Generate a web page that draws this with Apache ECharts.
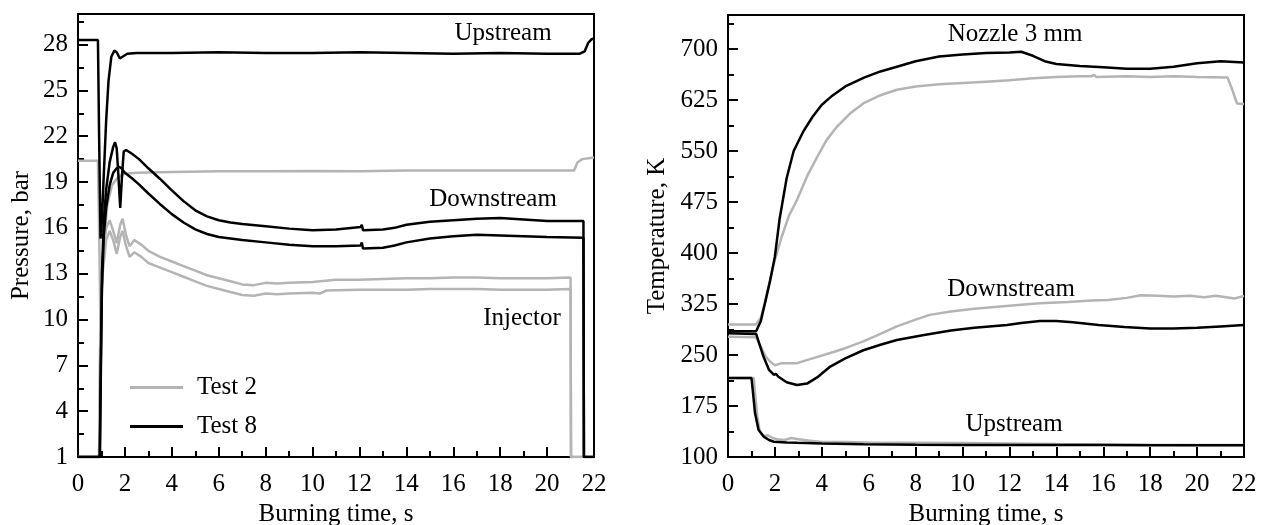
<!DOCTYPE html>
<html>
<head>
<meta charset="utf-8">
<script src="https://cdn.jsdelivr.net/npm/echarts/dist/echarts.min.js"></script>
<style>
  html, body { margin: 0; padding: 0; background: #fff; }
  #chart { width: 1264px; height: 525px; }
</style>
</head>
<body>
<div id="chart"></div>
<script>
// Burning-time histories, [time s, value] pairs

// Pressure, bar — Test 2
const p2Upstream = [[0,20.4],[0.85,20.4],[0.92,14],[0.96,9],[1.0,12],[1.1,15],[1.25,17.5],[1.45,18.8],[1.7,19.3],[2.0,19.55],[2.5,19.6],[4,19.65],[6,19.7],[8,19.7],[10,19.72],[12,19.7],[14,19.75],[16,19.75],[18,19.75],[20,19.75],[21.15,19.75],[21.3,20.3],[21.5,20.5],[22,20.6]];
const p2Downstream = [[0,1],[0.9,1],[0.95,9],[1.05,14],[1.2,16],[1.35,16.5],[1.5,15.8],[1.65,15.0],[1.8,16.2],[1.9,16.6],[2.05,15.5],[2.2,14.8],[2.4,15.2],[2.7,14.9],[3,14.5],[3.5,14.1],[4,13.8],[4.5,13.5],[5,13.2],[5.5,12.9],[6,12.7],[6.5,12.5],[7,12.3],[7.5,12.25],[8,12.4],[8.5,12.35],[9,12.4],[10,12.45],[11,12.6],[12,12.6],[13,12.65],[14,12.7],[15,12.7],[16,12.75],[17,12.75],[18,12.7],[19,12.7],[20,12.7],[21,12.75],[21.02,1],[21.6,1]];
const p2Injector = [[0,1],[0.9,1],[0.95,8.8],[1.05,13],[1.2,15.2],[1.35,15.8],[1.5,15.2],[1.65,14.3],[1.8,15.4],[1.9,15.8],[2.05,14.8],[2.2,14.1],[2.4,14.4],[2.7,14.1],[3,13.7],[3.5,13.4],[4,13.1],[4.5,12.8],[5,12.5],[5.5,12.2],[6,12.0],[6.5,11.8],[7,11.6],[7.5,11.55],[8,11.7],[8.5,11.65],[9,11.7],[10,11.75],[10.3,11.7],[10.6,11.9],[12,11.95],[13,11.95],[14,11.95],[15,12.0],[16,12.0],[17,12.0],[18,11.95],[19,11.95],[20,11.95],[21,12.0],[21.02,1],[21.6,1]];

// Pressure, bar — Test 8
const p8Upstream = [[0,28.3],[0.85,28.3],[0.9,22],[0.96,15.3],[1.02,16.5],[1.1,19.5],[1.2,23],[1.3,25.6],[1.42,27.2],[1.55,27.6],[1.65,27.5],[1.78,27.1],[1.9,27.2],[2.1,27.4],[2.5,27.45],[4,27.45],[6,27.5],[8,27.45],[10,27.45],[12,27.5],[14,27.45],[16,27.4],[18,27.45],[20,27.4],[21.4,27.4],[21.6,27.55],[21.75,28.1],[21.9,28.35],[22,28.4]];
const p8Downstream = [[0,1],[0.93,1],[0.97,7],[1.02,13],[1.1,16.5],[1.2,18.5],[1.35,20.3],[1.5,21.3],[1.58,21.6],[1.65,21.2],[1.72,19.5],[1.8,17.3],[1.88,19.5],[1.95,21],[2.05,21.1],[2.3,20.85],[2.6,20.5],[3,19.9],[3.5,19.2],[4,18.45],[4.5,17.75],[5,17.15],[5.5,16.75],[6,16.5],[6.5,16.35],[7,16.25],[8,16.1],[9,15.95],[10,15.85],[11,15.9],[12.05,16.05],[12.1,16.2],[12.15,15.85],[13,15.9],[13.5,16.0],[14,16.2],[15,16.4],[16,16.5],[17,16.6],[18,16.65],[19,16.55],[20,16.45],[21.55,16.45],[21.57,1],[22,1]];
const p8Injector = [[0,1],[0.93,1],[0.97,6],[1.02,12],[1.1,15.5],[1.2,17.3],[1.35,18.8],[1.5,19.6],[1.65,19.9],[1.75,20],[1.85,19.9],[2,19.6],[2.3,19.25],[2.6,18.85],[3,18.25],[3.5,17.55],[4,16.9],[4.5,16.35],[5,15.9],[5.5,15.6],[6,15.4],[7,15.2],[8,15.05],[9,14.9],[10,14.8],[11,14.8],[12.05,14.85],[12.1,15.05],[12.15,14.65],[13,14.7],[13.5,14.85],[14,15.05],[15,15.3],[16,15.45],[17,15.55],[18,15.5],[19,15.45],[20,15.4],[21.55,15.35],[21.57,1],[22,1]];

// Temperature, K — Test 2
const t2Nozzle = [[0,295],[1.2,295],[1.4,305],[1.6,330],[1.8,362],[2.0,390],[2.3,425],[2.6,455],[2.94,478],[3.4,515],[3.8,541],[4.2,566],[4.65,586],[5.2,605],[5.77,620],[6.5,632],[7.2,640],[8,645],[9,648],[10,650],[11,652],[12,654],[13,657],[14,659],[15,660],[15.5,660],[15.6,662],[15.7,659],[17,660],[18,659],[19,660],[20,659],[21.3,658],[21.5,640],[21.7,620],[22,619]];
const t2Downstream = [[0,277],[1.2,276],[1.4,262],[1.6,248],[1.8,240],[2.0,235],[2.3,238],[2.94,238],[3.5,244],[4.36,253],[5.0,260],[5.77,270],[6.5,281],[7.2,292],[8,302],[8.6,309],[9.5,314],[10.5,318],[11.5,321],[12.5,324],[13.3,326],[14.5,328],[15.5,330],[16.2,331],[17,334],[17.6,338],[18.3,337],[19,336],[19.7,337],[20.3,335],[20.8,337],[21.6,333],[22,337]];
const t2Upstream = [[0,216],[1.1,216],[1.15,195],[1.25,160],[1.35,138],[1.5,131],[1.7,132],[1.9,128],[2.1,126],[2.4,125],[2.7,128],[3.0,126],[3.5,124],[4,122],[5,122],[6,121.5],[8,121],[10,120.5],[12,119.8],[14,119],[16,118.5],[18,118],[20,117.8],[22,117.5]];

// Temperature, K — Test 8
const t8Nozzle = [[0,285],[1.2,285],[1.4,300],[1.6,330],[1.8,360],[2.0,395],[2.2,450],[2.5,510],[2.8,550],[3.2,578],[3.6,600],[4,618],[4.4,630],[5,645],[5.8,658],[6.5,667],[7.2,674],[8,682],[9,689],[10,692],[11,694],[12,695],[12.5,696],[13,690],[13.5,682],[14,678],[15,675],[16,673],[17,671],[18,671],[19,674],[20,679],[21,682],[22,680]];
const t8Downstream = [[0,282],[1.2,281],[1.35,265],[1.52,247],[1.75,228],[1.95,221],[2.05,222],[2.15,218],[2.5,210],[2.94,206],[3.37,208],[3.8,217],[4.36,233],[5,245],[5.77,257],[6.5,265],[7.2,272],[8.3,279],[9.5,286],[10.5,290],[11.9,294],[12.5,297],[13.3,300],[14,300],[14.7,298],[15.8,294],[16.9,291],[18,289],[19,289],[20,290],[21,292],[22,294]];
const t8Upstream = [[0,216],[1.0,216],[1.05,200],[1.15,165],[1.3,140],[1.52,130],[1.75,125],[1.95,122.5],[2.5,121.5],[2.94,121],[4,120],[5.77,118.7],[8,118],[10,117.8],[12,117.6],[14,117.5],[16,117.5],[18,117.3],[20,117.3],[22,117.2]];

// Axis ranges and tick steps
const timeRange = [0, 22], timeStep = 2;
const pressureRange = [1, 30], pressureStep = 3;
const temperatureRange = [100, 750], temperatureStep = 75;

const FONT = 'Liberation Serif';
const FONT_SIZE = 25;
const GRAY = '#b4b4b4';
const BLACK = '#000000';

const chart = echarts.init(document.getElementById('chart'), null, { renderer: 'canvas' });

function xAxisFor(gridIndex) {
  return {
    type: 'value', gridIndex, min: timeRange[0], max: timeRange[1], interval: timeStep,
    name: 'Burning time, s', nameLocation: 'middle', nameGap: 44,
    nameTextStyle: { fontFamily: FONT, fontSize: FONT_SIZE, color: '#000' },
    axisLine: { show: true, onZero: false, lineStyle: { color: '#000', width: 2 } },
    axisTick: { show: true, inside: true, length: 10, lineStyle: { color: '#000', width: 2 } },
    minorTick: { show: true, splitNumber: 2, length: 6, lineStyle: { color: '#000', width: 2 } },
    axisLabel: { fontFamily: FONT, fontSize: FONT_SIZE, color: '#000', margin: 15 },
    splitLine: { show: false }, minorSplitLine: { show: false }
  };
}

function yAxesFor(gridIndex, range, step, name, gap) {
  return [{
    type: 'value', gridIndex, position: 'left', min: range[0], max: range[1], interval: step,
    name, nameLocation: 'middle', nameGap: gap,
    nameTextStyle: { fontFamily: FONT, fontSize: FONT_SIZE, color: '#000' },
    axisLine: { show: true, onZero: false, lineStyle: { color: '#000', width: 2 } },
    axisTick: { show: true, inside: true, length: 10, lineStyle: { color: '#000', width: 2 } },
    axisLabel: { fontFamily: FONT, fontSize: FONT_SIZE, color: '#000', margin: 10, showMaxLabel: false },
    splitLine: { show: false }
  }, {
    // half-step ticks between the labelled ones
    type: 'value', gridIndex, position: 'left', min: range[0], max: range[1], interval: step / 2,
    axisLine: { show: false },
    axisTick: { show: true, inside: true, length: 6, lineStyle: { color: '#000', width: 2 } },
    axisLabel: { show: false }, splitLine: { show: false }
  }];
}

function line(name, data, color, xi, yi) {
  return {
    type: 'line', name, data, xAxisIndex: xi, yAxisIndex: yi,
    symbol: 'none', showSymbol: false, clip: true,
    lineStyle: { color, width: 2.5 }, itemStyle: { color },
    emphasis: { disabled: true }
  };
}

function note(text, x, y) {
  return { type: 'text', x, y, z: 10,
    style: { text, fontFamily: FONT, fontSize: FONT_SIZE, fill: '#000', align: 'center', verticalAlign: 'middle' } };
}

chart.setOption({
  animation: false,
  backgroundColor: '#fff',
  grid: [
    { left: 78, right: 670, top: 14, bottom: 68, outerBoundsMode: 'none',
      show: true, borderColor: '#000', borderWidth: 2 },
    { left: 728, right: 20, top: 15, bottom: 68, outerBoundsMode: 'none',
      show: true, borderColor: '#000', borderWidth: 2 }
  ],
  xAxis: [xAxisFor(0), xAxisFor(1)],
  yAxis: [
    ...yAxesFor(0, pressureRange, pressureStep, 'Pressure, bar', 44),
    ...yAxesFor(1, temperatureRange, temperatureStep, 'Temperature, K', 58)
  ],
  legend: {
    orient: 'vertical', left: 125, top: 370, itemGap: 14,
    itemWidth: 53, itemHeight: 3, icon: 'rect',
    textStyle: { fontFamily: FONT, fontSize: FONT_SIZE, color: '#000', padding: [0, 0, 0, 9] },
    data: ['Test 2', 'Test 8'], selectedMode: false
  },
  series: [
    line('Test 2', p2Upstream, GRAY, 0, 0),
    line('Test 2', p2Downstream, GRAY, 0, 0),
    line('Test 2', p2Injector, GRAY, 0, 0),
    line('Test 8', p8Upstream, BLACK, 0, 0),
    line('Test 8', p8Downstream, BLACK, 0, 0),
    line('Test 8', p8Injector, BLACK, 0, 0),
    line('Test 2', t2Nozzle, GRAY, 1, 2),
    line('Test 2', t2Downstream, GRAY, 1, 2),
    line('Test 2', t2Upstream, GRAY, 1, 2),
    line('Test 8', t8Nozzle, BLACK, 1, 2),
    line('Test 8', t8Downstream, BLACK, 1, 2),
    line('Test 8', t8Upstream, BLACK, 1, 2)
  ],
  graphic: [
    note('Upstream', 503, 33),
    note('Downstream', 493, 199),
    note('Injector', 522, 318),
    note('Nozzle 3 mm', 1015, 34),
    note('Downstream', 1011, 289),
    note('Upstream', 1014, 424)
  ]
});
</script>
</body>
</html>
